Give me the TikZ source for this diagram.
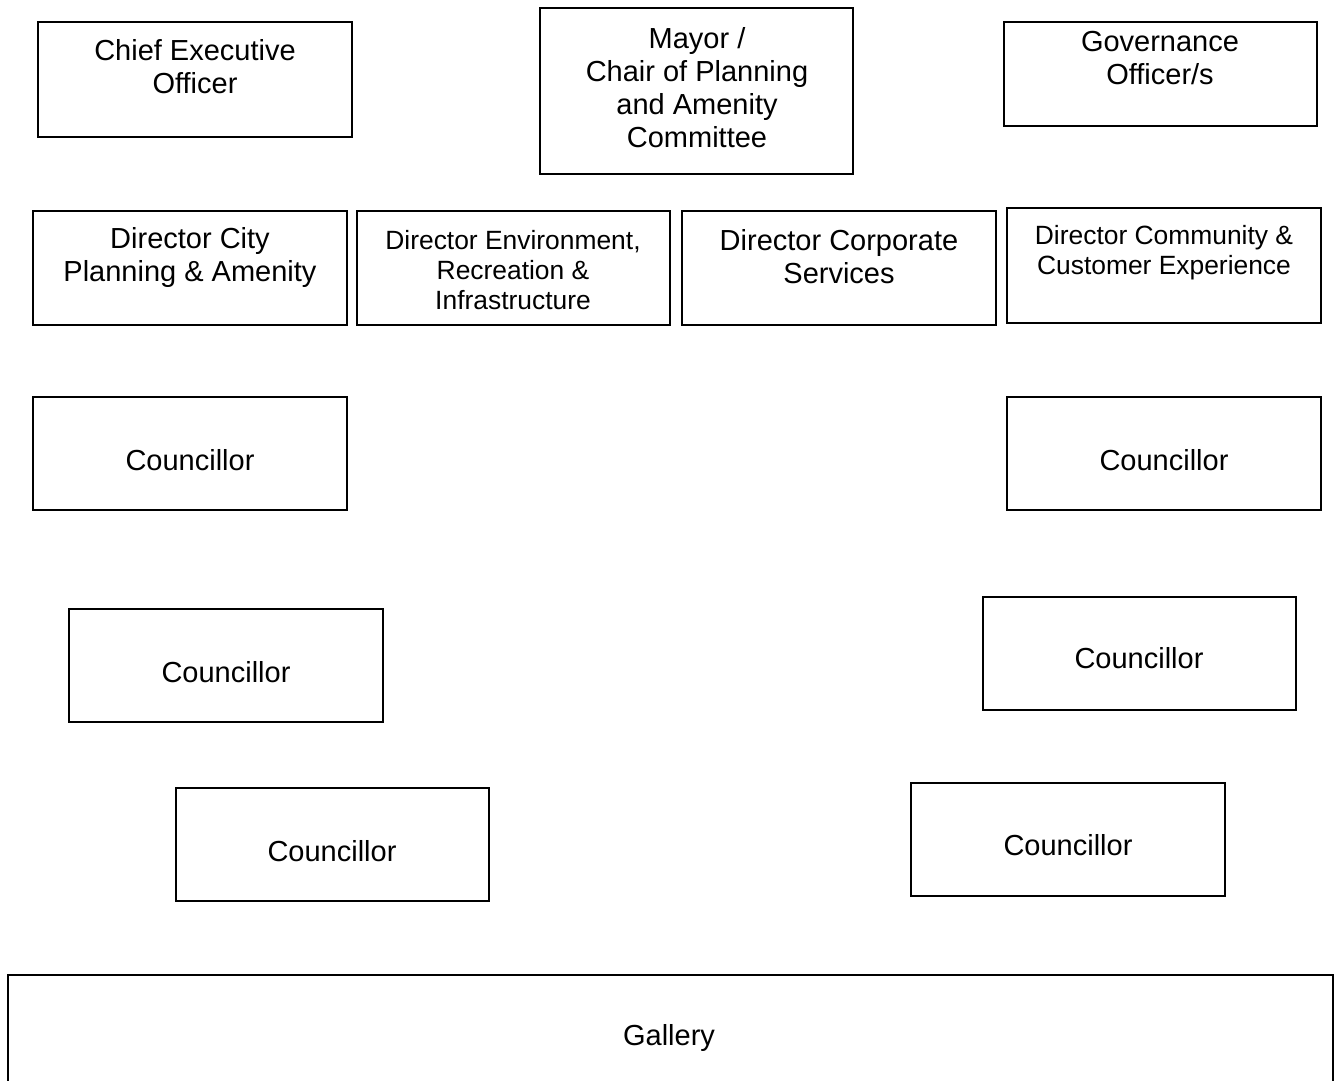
\documentclass[tikz,border=0pt]{standalone}
\usepackage{fontspec}
\setmainfont{Liberation Sans}
\usepackage{tikz}
\tikzset{box/.style={draw, line width=1pt, inner sep=0pt},
	lbl/.style={font=\fontsize{14.5}{16.5}\selectfont, align=center, inner sep=0pt},
	small/.style={font=\fontsize{13.2}{15}\selectfont, align=center, inner sep=0pt}}

\begin{document}
\begin{tikzpicture}[x=0.5pt, y=-0.5pt]
		\clip (0,0) rectangle (1338,1081);
		% top row
		\node[box, minimum width=157pt, minimum height=57.5pt] (ceo) at (195,79.5){};
		\node[lbl] (ceot) at (195,67){Chief Executive\\Officer};
		\node[box, minimum width=156.5pt, minimum height=83pt] (mayor) at (696.5,91){};
		\node[lbl] (mayort) at (697,88){Mayor /\\Chair of Planning\\and Amenity\\Committee};
		\node[box, minimum width=156.5pt, minimum height=52pt] (gov) at (1160.5,74){};
		\node[lbl] (govt) at (1160,58){Governance\\Officer/s};
		% directors
		\node[box, minimum width=157pt, minimum height=57pt] (dcity) at (190,268){};
		\node[lbl] (dcityt) at (190,257){Director City\\Planning \& Amenity};
		\node[box, minimum width=156.5pt, minimum height=57pt] (denv) at (513.5,268){};
		\node[small] (denvt) at (513,270){Director Environment,\\Recreation \&\\Infrastructure};
		\node[box, minimum width=157pt, minimum height=57pt] (dcorp) at (839,268){};
		\node[lbl] (dcorpt) at (839,257){Director Corporate\\Services};
		\node[box, minimum width=157pt, minimum height=57.5pt] (dcomm) at (1164,265.5){};
		\node[small] (dcommt) at (1164,253){Director Community \&\\Customer Experience};
		% councillors
		\node[box, minimum width=157pt, minimum height=56.5pt] (cl1) at (190,453.5){};
		\node[lbl] (cl1t) at (190,460){Councillor};
		\node[box, minimum width=157pt, minimum height=56.5pt] (cr1) at (1164,453.5){};
		\node[lbl] (cr1t) at (1164,460){Councillor};
		\node[box, minimum width=157pt, minimum height=56.5pt] (cl2) at (226,665.5){};
		\node[lbl] (cl2t) at (226,672){Councillor};
		\node[box, minimum width=156.5pt, minimum height=56.5pt] (cr2) at (1139.5,653.5){};
		\node[lbl] (cr2t) at (1139,658){Councillor};
		\node[box, minimum width=156.5pt, minimum height=56.5pt] (cl3) at (332.5,844.5){};
		\node[lbl] (cl3t) at (332,851){Councillor};
		\node[box, minimum width=157pt, minimum height=56.5pt] (cr3) at (1068,839.5){};
		\node[lbl] (cr3t) at (1068,845){Councillor};
		% gallery
		\node[box, minimum width=662.5pt, minimum height=67.5pt] (gal) at (670.5,1042.5){};
		\node[lbl] (galt) at (669,1038){Gallery};
\end{tikzpicture}
\end{document}
